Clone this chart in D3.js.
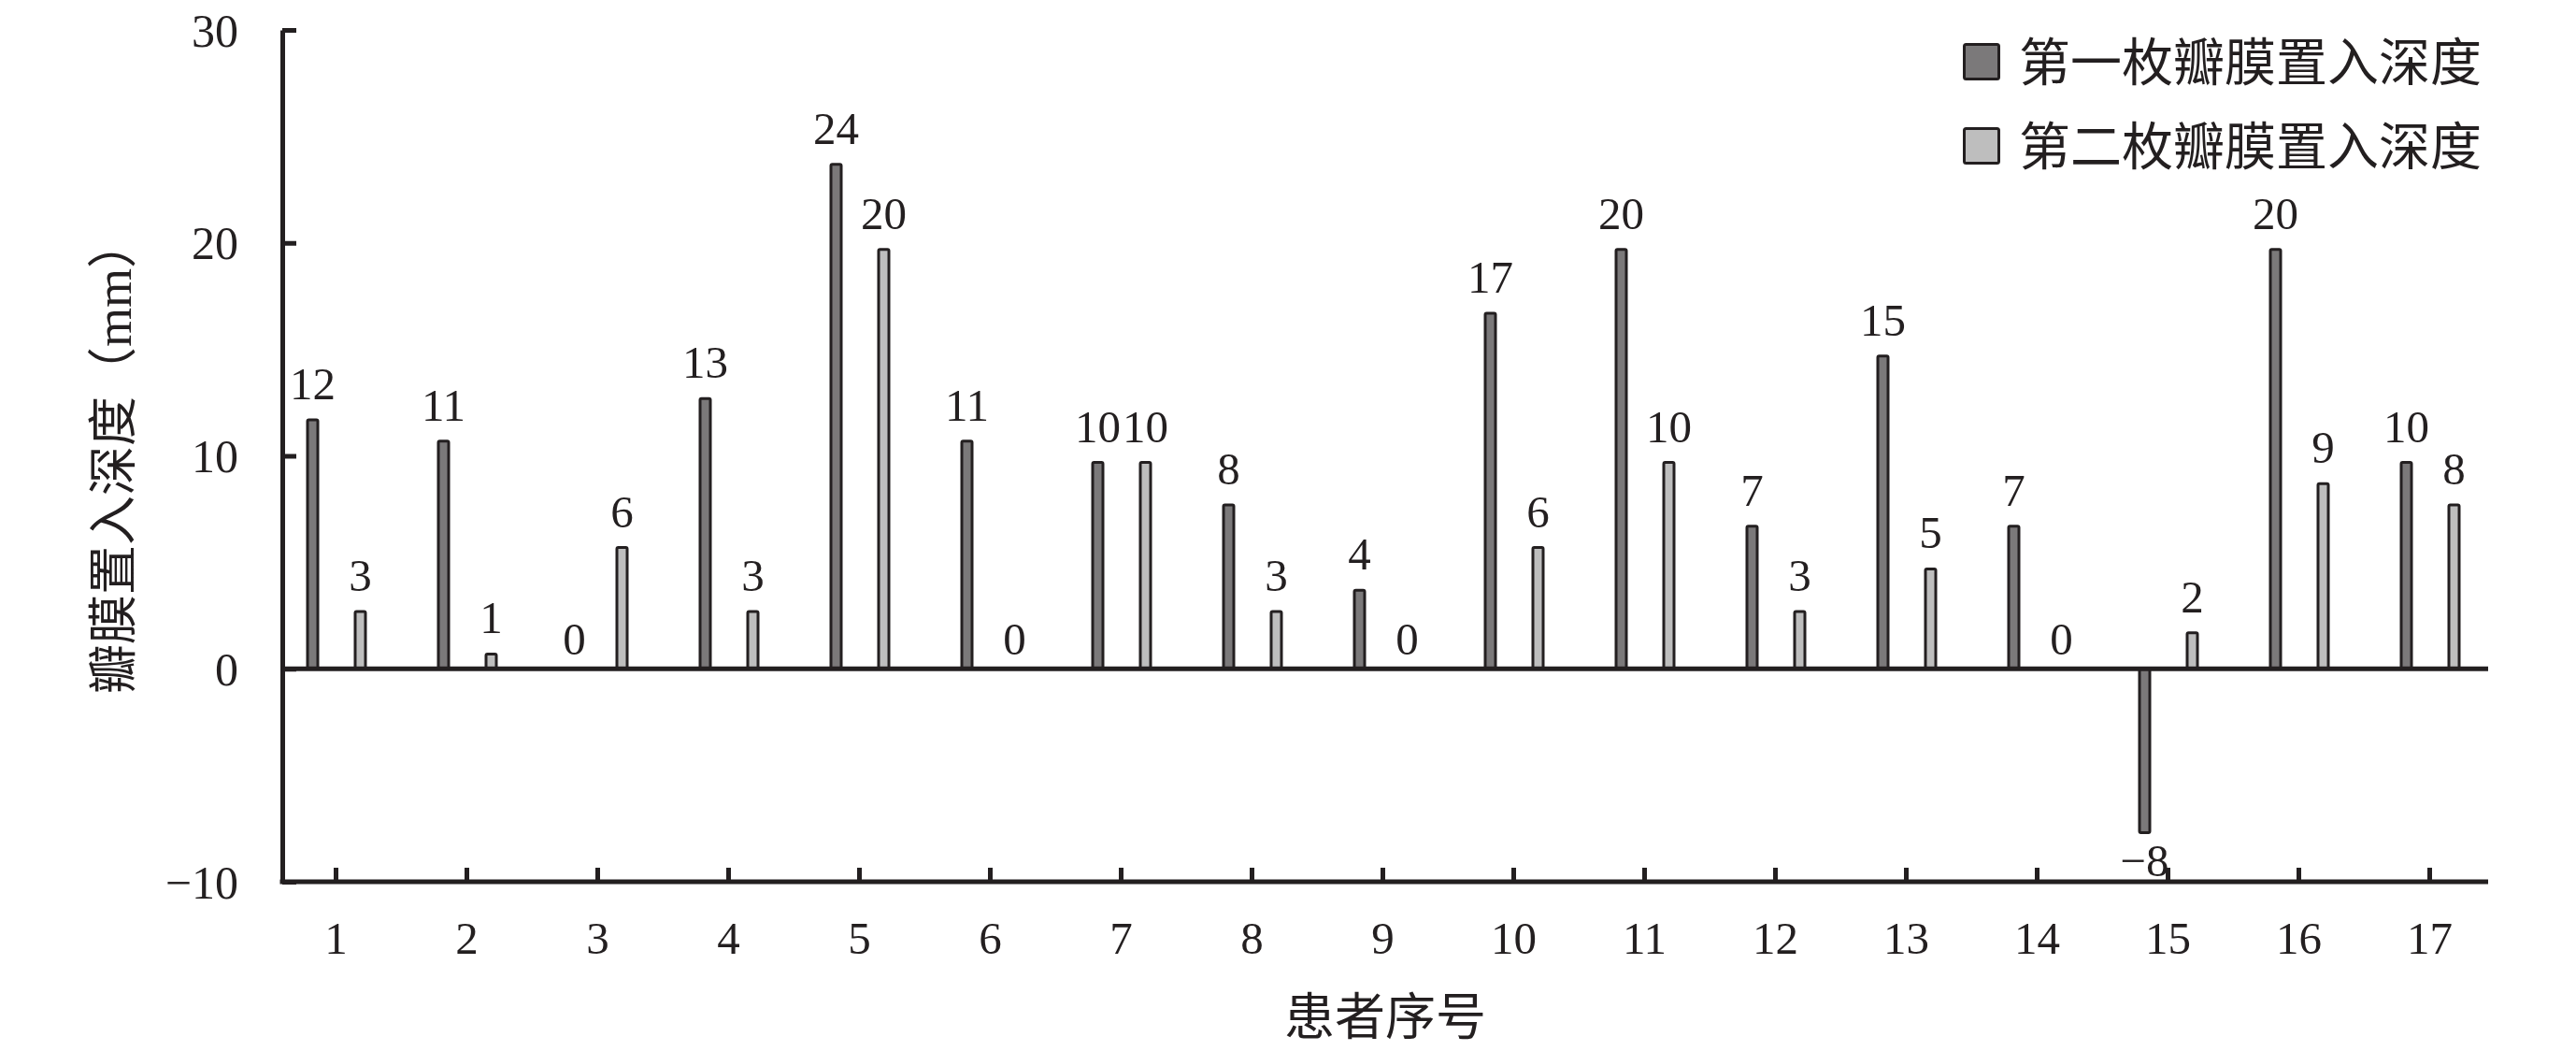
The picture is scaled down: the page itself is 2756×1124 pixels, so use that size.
<!DOCTYPE html>
<html>
<head>
<meta charset="utf-8">
<script src="https://cdn.jsdelivr.net/npm/d3@7"></script>
<style>
  html, body { margin: 0; padding: 0; background: #fff; }
  svg { display: block; }
</style>
</head>
<body>
<svg id="chart" width="2756" height="1124"></svg>
<script>
// ---- data ----
const patients = ["1","2","3","4","5","6","7","8","9","10","11","12","13","14","15","16","17"];
const seriesNames = ["第一枚瓣膜置入深度", "第二枚瓣膜置入深度"];
const firstDepth  = [12, 11, 0, 13, 24, 11, 10, 8, 4, 17, 20, 7, 15, 7, -8, 20, 10];
const secondDepth = [3, 1, 6, 3, 20, 0, 10, 3, 0, 6, 10, 3, 5, 0, 2, 9, 8];
const yTicks = [-10, 0, 10, 20, 30];
const xTitle = "患者序号";
const yTitle = "瓣膜置入深度";
const yUnit = "mm";

// ---- style ----
const ink = "#231f20";
const fills = ["#7b797a", "#bebebe"];
const serif = "'Liberation Serif', 'Times New Roman', serif";
const cjk = "'Noto Sans CJK SC', 'Noto Sans CJK JP', sans-serif";

const svg = d3.select("#chart");
const axisLeftX = 302, axisRightX = 2662;

const y = d3.scaleLinear().domain([-10, 30]).range([943, 32]);
const x = d3.scalePoint().domain(patients).range([359, 2599]);
const xSub = d3.scalePoint().domain([0, 1]).range([-24.5, 26.5]);
const barW = 11;
const inset = 7;

// Y axis
const yAxis = d3.axisLeft(y).tickValues(yTicks).tickSizeInner(-15).tickSizeOuter(0)
  .tickPadding(47).tickFormat(d => d < 0 ? "\u2212" + Math.abs(d) : d);
const gy = svg.append("g").attr("transform", `translate(${axisLeftX},0)`).call(yAxis);
gy.select(".domain").attr("stroke", ink).attr("stroke-width", 5);
gy.selectAll(".tick line").attr("stroke", ink).attr("stroke-width", 5);
gy.selectAll(".tick text").attr("fill", ink).attr("font-family", serif).attr("font-size", 50)
  .attr("dy", "0.34em");

// Bottom axis line + ticks
const gx = svg.append("g").attr("transform", `translate(0,${y(-10)})`)
  .call(d3.axisBottom(x).tickSizeInner(-15).tickSizeOuter(0).tickPadding(42));
gx.select(".domain").remove();
gx.append("line").attr("x1", axisLeftX - 2.5).attr("x2", axisRightX)
  .attr("stroke", ink).attr("stroke-width", 5);
gx.selectAll(".tick line").attr("stroke", ink).attr("stroke-width", 5);
gx.selectAll(".tick text").attr("fill", ink).attr("font-family", serif).attr("font-size", 49);

// Bars
const rows = [];
patients.forEach((p, i) => {
  [firstDepth[i], secondDepth[i]].forEach((v, s) => rows.push({p, s, v}));
});

svg.append("g").selectAll("rect").data(rows.filter(d => d.v !== 0)).join("rect")
  .attr("x", d => x(d.p) + xSub(d.s) - barW / 2)
  .attr("width", barW)
  .attr("y", d => d.v >= 0 ? y(d.v) + inset : y(0))
  .attr("height", d => Math.max(0, Math.abs(y(d.v) - y(0)) - inset))
  .attr("rx", 1.5)
  .attr("fill", d => fills[d.s])
  .attr("stroke", ink).attr("stroke-width", 3);

// Zero line
svg.append("line").attr("x1", axisLeftX).attr("x2", axisRightX)
  .attr("y1", y(0)).attr("y2", y(0)).attr("stroke", ink).attr("stroke-width", 5);

// Value labels
svg.append("g").selectAll("text").data(rows).join("text")
  .attr("x", d => x(d.p) + xSub(d.s))
  .attr("y", d => d.v >= 0 ? y(d.v) - 15 : y(d.v) + 40)
  .attr("text-anchor", "middle")
  .attr("font-family", serif).attr("font-size", 49).attr("fill", ink)
  .text(d => d.v < 0 ? "\u2212" + Math.abs(d.v) : d.v);

// Axis titles
svg.append("text").attr("x", (axisLeftX + axisRightX) / 2).attr("y", 1107)
  .attr("text-anchor", "middle").attr("font-family", cjk).attr("font-size", 54)
  .attr("fill", ink).text(xTitle);

const yt = svg.append("text").attr("transform", "translate(140,488) rotate(-90)")
  .attr("text-anchor", "middle").attr("font-family", cjk).attr("font-size", 53)
  .attr("fill", ink);
yt.append("tspan").text(yTitle + "（");
yt.append("tspan").attr("font-family", serif).attr("font-size", 54).text(yUnit);
yt.append("tspan").text("）");

// Legend
const lg = svg.append("g").selectAll("g").data(seriesNames).join("g")
  .attr("transform", (d, i) => `translate(2100,${46 + i * 90})`);
lg.append("rect").attr("x", 1.5).attr("y", 1.5).attr("width", 37).attr("height", 37)
  .attr("rx", 2).attr("fill", (d, i) => fills[i]).attr("stroke", ink).attr("stroke-width", 3);
lg.append("text").attr("x", 60).attr("y", 20).attr("dy", "0.36em")
  .attr("font-family", cjk).attr("font-size", 55).attr("fill", ink).text(d => d);
</script>
</body>
</html>
